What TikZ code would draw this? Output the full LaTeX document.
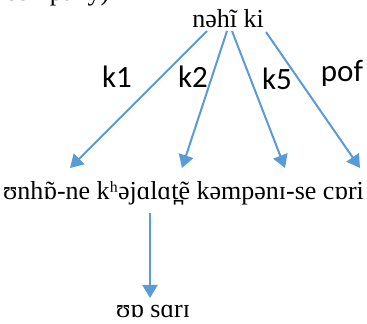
\documentclass[tikz,border=0pt]{standalone}
\usepackage{fontspec}
\setmainfont{Liberation Serif}
\newfontfamily\labelfont{Carlito}
\usetikzlibrary{arrows.meta}
\definecolor{arrowblue}{RGB}{91,155,213}
% nasalised vowel: spacing tilde centred over the letter
\newcommand\nasalv[1]{\ooalign{#1\cr\hidewidth˜\hidewidth\cr}}
\begin{document}
\begin{tikzpicture}[x=1pt,y=1pt,
  word/.style={inner sep=0pt,font=\fontsize{26}{31}\selectfont},
  edgelabel/.style={inner sep=0pt,font=\labelfont\fontsize{31}{36}\selectfont},
  link/.style={draw=arrowblue,line width=2pt,-{Triangle[width=15pt,length=13pt]}}]
\useasboundingbox (0,0) rectangle (367,324);
% tail of the preceding line, cut by the page edge
\node[word,anchor=base west] (prev) at (5,323.5) {company)};
% head word
\node[word,anchor=base] (head) at (228,296) {nəhĩ ki};
% dependent phrase
\node[word,anchor=base west] (sent) at (3,124) {ʊnh\nasalv{ɒ}-ne kʰəjɑlɑt̪ẽ kəmpənɪ-se cɒri};
\node[word,anchor=base] (leaf) at (153,6) {ʊɒ sɑrɪ};
% arrow ends
\coordinate (s1) at (207,293);
\coordinate (s2) at (227,293);
\coordinate (s3) at (232,293);
\coordinate (s4) at (266,292);
\coordinate (t1) at (70,156);
\coordinate (t2) at (182,156);
\coordinate (t3) at (285,156);
\coordinate (t4) at (360,156);
\coordinate (v0) at (150,111);
\coordinate (v1) at (150,26);
\draw[link] (s1) -- (t1);
\draw[link] (s2) -- (t2);
\draw[link] (s3) -- (t3);
\draw[link] (s4) -- (t4);
\draw[link] (v0) -- (v1);
% relation labels
\node[edgelabel] (l1) at (117,247) {k1};
\node[edgelabel] (l2) at (193,247) {k2};
\node[edgelabel] (l3) at (277,245) {k5};
\node[edgelabel] (l4) at (342,251) {pof};
\end{tikzpicture}
\end{document}
